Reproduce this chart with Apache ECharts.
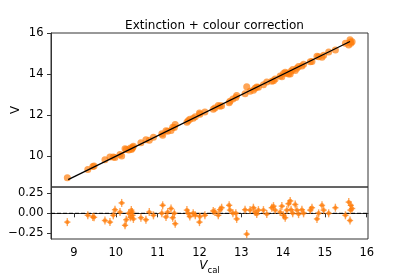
<!DOCTYPE html>
<html>
<head>
<meta charset="utf-8">
<script src="https://cdn.jsdelivr.net/npm/echarts@6/dist/echarts.min.js"></script>
<style>html,body{margin:0;padding:0;background:#fff}#c{width:409px;height:273px}</style>
</head>
<body>
<div id="c"></div>
<script>
const vcal = [8.84,9.33,9.45,9.48,9.74,9.86,9.94,9.98,10.10,10.14,10.22,10.25,10.31,10.35,10.37,10.39,10.40,10.42,10.60,10.72,10.80,10.90,11.10,11.12,11.20,11.24,11.32,11.36,11.40,11.42,11.70,11.73,11.77,11.85,11.90,12.00,12.01,12.13,12.33,12.37,12.45,12.49,12.53,12.71,12.73,12.80,12.87,12.89,13.09,13.13,13.21,13.29,13.33,13.37,13.41,13.53,13.61,13.73,13.77,13.81,13.93,13.97,14.01,14.05,14.09,14.13,14.17,14.19,14.23,14.29,14.33,14.37,14.45,14.49,14.65,14.69,14.81,14.85,14.93,14.97,15.09,15.25,15.49,15.57,15.60,15.61,15.62,15.65];
const vobs = [8.95,9.355,9.495,9.53,9.83,9.97,9.965,9.935,10.085,10.01,10.37,10.33,10.31,10.40,10.33,10.375,10.425,10.49,10.655,10.80,10.785,10.925,11.10,11.02,11.245,11.225,11.26,11.415,11.40,11.55,11.66,11.73,11.81,11.85,11.925,12.11,12.05,12.155,12.30,12.355,12.475,12.445,12.46,12.61,12.69,12.80,12.87,12.96,13.045,13.39,13.17,13.22,13.315,13.38,13.37,13.49,13.62,13.66,13.68,13.77,13.915,13.88,14.035,14.105,14.05,14.01,14.015,14.145,14.23,14.18,14.29,14.38,14.405,14.49,14.61,14.62,14.88,14.85,14.83,14.93,15.09,15.18,15.515,15.43,15.69,15.57,15.52,15.59];
const resid = [-0.11,-0.025,-0.045,-0.05,-0.09,-0.11,-0.025,0.045,0.015,0.13,-0.15,-0.08,0.0,-0.05,0.04,0.015,-0.025,-0.07,-0.055,-0.08,0.015,-0.025,0.0,0.10,-0.045,0.015,0.06,-0.055,0.0,-0.13,0.04,0.0,-0.04,0.0,-0.025,-0.11,-0.04,-0.025,0.03,0.015,-0.025,0.045,0.07,0.10,0.04,0.0,0.0,-0.07,0.045,-0.26,0.04,0.07,0.015,-0.01,0.04,0.04,-0.01,0.07,0.09,0.04,0.015,0.09,-0.025,-0.055,0.04,0.12,0.155,0.045,0.0,0.11,0.04,-0.01,0.045,0.0,0.04,0.07,-0.07,0.0,0.10,0.04,0.0,0.07,-0.025,0.14,-0.09,0.04,0.10,0.06];
const XERR = 0.075, YERR = 0.05;
const fitX = [8.86, 15.6];
const fitY = [8.86, 15.6];
const xTicks = [9,10,11,12,13,14,15,16];
const yTopTicks = [10,12,14,16];
const yBotTicks = [-0.25,0,0.25];
const XMIN = 8.45, XMAX = 16.03;

const ORANGE = '#ff7f0e';
const AX = '#333';
const FONT = 'DejaVu Sans';

const chart = echarts.init(document.getElementById('c'), null, {renderer:'canvas'});
const topData = vcal.map((x,i)=>[x, vobs[i]]);
const botData = vcal.map((x,i)=>[x, resid[i], XERR, YERR]);

function fmt(v){ const s = Math.abs(v).toFixed(2); return (v < -1e-9 ? '\u2212' : '') + s; }

chart.setOption({
  animation:false,
  title:{text:'Extinction + colour correction', left:209.5, textAlign:'center', top:15,
    textStyle:{fontFamily:FONT, fontSize:12, fontWeight:'normal', color:'#000'}},
  grid:[
    {left:51, top:33, width:317, height:154, show:true, borderColor:AX, borderWidth:1, outerBoundsMode:'none', containLabel:false},
    {left:51, top:187, width:317, height:52, show:true, borderColor:AX, borderWidth:1, outerBoundsMode:'none', containLabel:false}
  ],
  xAxis:[
    {gridIndex:0, type:'value', min:XMIN, max:XMAX, axisLine:{show:false}, axisTick:{show:false}, axisLabel:{show:false}, splitLine:{show:false}},
    {gridIndex:1, type:'value', min:XMIN, max:XMAX,
      axisLine:{show:true, lineStyle:{color:AX}},
      axisTick:{show:true, length:4, lineStyle:{color:AX}, customValues:xTicks},
      axisLabel:{customValues:xTicks, margin:8, fontFamily:FONT, fontSize:11.5, color:'#000', formatter:v=>String(Math.round(v))},
      splitLine:{show:false},
      name:'{i|V}{s|cal}', nameLocation:'middle', nameGap:19,
      nameTextStyle:{rich:{i:{fontFamily:FONT, fontStyle:'italic', fontSize:12, color:'#000', verticalAlign:'bottom'},
                           s:{fontFamily:FONT, fontSize:8.5, color:'#000', verticalAlign:'bottom', padding:[0,0,-3,0]}}}
    }
  ],
  yAxis:[
    {gridIndex:0, type:'value', min:8.50, max:16.015,
      axisLine:{show:true, lineStyle:{color:AX}},
      axisTick:{show:true, length:4, lineStyle:{color:AX}, customValues:yTopTicks},
      axisLabel:{customValues:yTopTicks, margin:7.5, fontFamily:FONT, fontSize:11.5, color:'#000', formatter:v=>String(Math.round(v))},
      splitLine:{show:false},
      name:'V', nameLocation:'middle', nameGap:29, nameRotate:90, nameMoveOverlap:false,
      nameTextStyle:{fontFamily:FONT, fontSize:12, color:'#000'}
    },
    {gridIndex:1, type:'value', min:-0.321, max:0.329,
      axisLine:{show:true, lineStyle:{color:AX}},
      axisTick:{show:true, length:4, lineStyle:{color:AX}, customValues:yBotTicks},
      axisLabel:{customValues:yBotTicks, margin:7.5, fontFamily:FONT, fontSize:11.5, color:'#000', formatter:fmt},
      splitLine:{show:false}
    }
  ],
  series:[
    {type:'scatter', xAxisIndex:0, yAxisIndex:0, data:topData, symbol:'circle', symbolSize:7,
      itemStyle:{color:ORANGE, opacity:0.7}, z:2},
    {type:'line', xAxisIndex:0, yAxisIndex:0, data:fitX.map((x,i)=>[x, fitY[i]]), symbol:'none',
      lineStyle:{color:'#000', width:1.3}, z:3},
    {type:'line', xAxisIndex:1, yAxisIndex:1, data:[[XMIN,0],[XMAX,0]], symbol:'none',
      lineStyle:{color:'#000', width:1, type:[4,2]}, z:1},
    {type:'custom', xAxisIndex:1, yAxisIndex:1, data:botData, z:2,
      renderItem:function(params, api){
        const x=api.value(0), y=api.value(1), ex=api.value(2), ey=api.value(3);
        const c=api.coord([x,y]), l=api.coord([x-ex,y]), r=api.coord([x+ex,y]);
        const t=api.coord([x,y+ey]), b=api.coord([x,y-ey]);
        const st={stroke:ORANGE, lineWidth:1.4, opacity:0.7};
        return {type:'group', children:[
          {type:'line', shape:{x1:l[0], y1:c[1], x2:r[0], y2:c[1]}, style:st},
          {type:'line', shape:{x1:c[0], y1:t[1], x2:c[0], y2:b[1]}, style:st},
          {type:'circle', shape:{cx:c[0], cy:c[1], r:2.2}, style:{fill:ORANGE, opacity:0.7}}
        ]};
      }
    }
  ]
});
</script>
</body>
</html>
